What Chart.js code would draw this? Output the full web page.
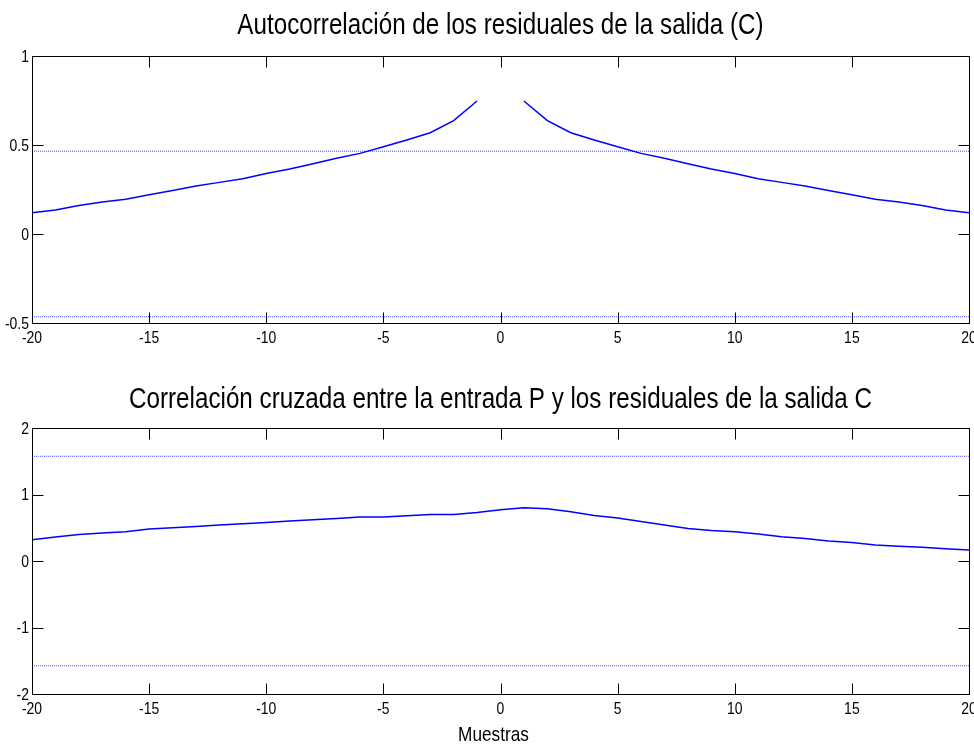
<!DOCTYPE html>
<html>
<head>
<meta charset="utf-8">
<title>Residuales</title>
<script src="https://cdn.jsdelivr.net/npm/chart.js@4/dist/chart.umd.min.js"></script>
<style>
  html, body { margin: 0; padding: 0; background: #fff; }
  #wrap { position: relative; width: 974px; height: 749px; overflow: hidden; }
  canvas { position: absolute; left: 0; }
  #autoChart { top: 0; }
  #crossChart { top: 370px; }
</style>
</head>
<body>
<div id="wrap">
  <canvas id="autoChart" width="974" height="370"></canvas>
  <canvas id="crossChart" width="974" height="379"></canvas>
</div>
<script>
// Lags (muestras)
const lags = [-20, -19, -18, -17, -16, -15, -14, -13, -12, -11, -10, -9, -8, -7, -6, -5, -4, -3, -2, -1, 0,
              1, 2, 3, 4, 5, 6, 7, 8, 9, 10, 11, 12, 13, 14, 15, 16, 17, 18, 19, 20];

// Autocorrelation of the output residuals (lag 0 left out)
const autoCorr = [0.12, 0.135, 0.16, 0.18, 0.195, 0.22, 0.245, 0.27, 0.29, 0.31, 0.34, 0.365, 0.395, 0.425, 0.453, 0.49, 0.528, 0.569, 0.637, 0.747, null,
                  0.747, 0.637, 0.569, 0.528, 0.49, 0.453, 0.425, 0.395, 0.365, 0.34, 0.31, 0.29, 0.27, 0.245, 0.22, 0.195, 0.18, 0.16, 0.135, 0.12];

// Cross correlation between input P and output residuals
const crossCorr = [0.32, 0.36, 0.40, 0.42, 0.44, 0.48, 0.50, 0.52, 0.54, 0.56, 0.58, 0.60, 0.62, 0.64, 0.66, 0.66, 0.68, 0.70, 0.70, 0.73, 0.77,
                   0.80, 0.785, 0.74, 0.685, 0.645, 0.595, 0.54, 0.49, 0.46, 0.44, 0.405, 0.365, 0.34, 0.30, 0.28, 0.24, 0.22, 0.205, 0.185, 0.165];

// Confidence bounds
const autoBound = 0.465;
const crossBound = 1.575;

// Axis ranges and tick steps
const xRange = [-20, 20];
const xStep = 5;
const autoRange = [-0.5, 1];
const autoStep = 0.5;
const crossRange = [-2, 2];
const crossStep = 1;

const FONT = '"Liberation Sans", Arial, sans-serif';

// condensed text helper
function drawText(ctx, text, x, y, size, align, baseline, squeeze) {
    ctx.save();
    ctx.translate(x, y);
    ctx.scale(squeeze || 0.82, 1);
    ctx.font = size + 'px ' + FONT;
    ctx.textAlign = align;
    ctx.textBaseline = baseline;
    ctx.fillStyle = '#000';
    ctx.fillText(text, 0, 0);
    ctx.restore();
}

// MATLAB style box: ticks inside on all sides, labels, title
const matlabAxes = {
    id: 'matlabAxes',
    afterDraw(chart, args, opts) {
        const ctx = chart.ctx;
        const a = chart.chartArea;
        const xs = chart.scales.x;
        const ys = chart.scales.y;
        const L = Math.round(a.left) + 0.5, R = Math.round(a.right) + 0.5;
        const T = Math.round(a.top) + 0.5, B = Math.round(a.bottom) + 0.5;
        const tl = 11;

        ctx.save();
        ctx.strokeStyle = '#000';
        ctx.lineWidth = 1;
        ctx.strokeRect(L, T, R - L, B - T);

        ctx.beginPath();
        xs.ticks.forEach(t => {
            const px = Math.round(xs.getPixelForValue(t.value)) + 0.5;
            ctx.moveTo(px, B); ctx.lineTo(px, B - tl);
            ctx.moveTo(px, T); ctx.lineTo(px, T + tl);
        });
        ys.ticks.forEach(t => {
            const py = Math.round(ys.getPixelForValue(t.value)) + 0.5;
            ctx.moveTo(L, py); ctx.lineTo(L + tl, py);
            ctx.moveTo(R, py); ctx.lineTo(R - tl, py);
        });
        ctx.stroke();
        ctx.restore();

        xs.ticks.forEach(t => {
            drawText(ctx, String(t.value), xs.getPixelForValue(t.value), a.bottom + 15, 17, 'center', 'middle');
        });
        ys.ticks.forEach(t => {
            drawText(ctx, String(t.value), a.left - 3, ys.getPixelForValue(t.value) + 1, 17, 'right', 'middle');
        });

        if (opts.title) {
            drawText(ctx, opts.title, (a.left + a.right) / 2, a.top - opts.titleGap, 29, 'center', 'alphabetic', 0.835);
        }
        if (opts.xlabel) {
            drawText(ctx, opts.xlabel, (a.left + a.right) / 2 - 7, a.bottom + 41, 21, 'center', 'middle');
        }
    }
};

function makeChart(id, values, bound, yRange, yStep, pad, plotOpts) {
    const pts = lags.map((l, i) => ({ x: l, y: values[i] }));
    return new Chart(document.getElementById(id), {
        type: 'line',
        data: {
            datasets: [
                {
                    data: pts,
                    borderColor: '#0000ff',
                    borderWidth: 1.5,
                    pointRadius: 0,
                    tension: 0,
                    spanGaps: false
                },
                {
                    data: [{ x: xRange[0], y: bound }, { x: xRange[1], y: bound }],
                    borderColor: '#4a4aff',
                    borderWidth: 1,
                    borderDash: [1, 1],
                    pointRadius: 0
                },
                {
                    data: [{ x: xRange[0], y: -bound }, { x: xRange[1], y: -bound }],
                    borderColor: '#4a4aff',
                    borderWidth: 1,
                    borderDash: [1, 1],
                    pointRadius: 0
                }
            ]
        },
        options: {
            responsive: false,
            animation: false,
            layout: { padding: pad },
            plugins: {
                legend: { display: false },
                tooltip: { enabled: false },
                matlabAxes: plotOpts
            },
            scales: {
                x: {
                    type: 'linear',
                    min: xRange[0],
                    max: xRange[1],
                    ticks: { display: false, stepSize: xStep },
                    grid: { display: false, drawTicks: false },
                    border: { display: false },
                    afterFit: s => { s.height = 24; }
                },
                y: {
                    min: yRange[0],
                    max: yRange[1],
                    ticks: { display: false, stepSize: yStep },
                    grid: { display: false, drawTicks: false },
                    border: { display: false },
                    afterFit: s => { s.width = 32; }
                }
            }
        },
        plugins: [matlabAxes]
    });
}

makeChart('autoChart', autoCorr, autoBound, autoRange, autoStep,
    { top: 56, right: 5, bottom: 23, left: 0 },
    { title: 'Autocorrelación de los residuales de la salida (C)', titleGap: 22 });

makeChart('crossChart', crossCorr, crossBound, crossRange, crossStep,
    { top: 58, right: 5, bottom: 31, left: 0 },
    { title: 'Correlación cruzada entre la entrada P y los residuales de la salida C', titleGap: 20, xlabel: 'Muestras' });
</script>
</body>
</html>
